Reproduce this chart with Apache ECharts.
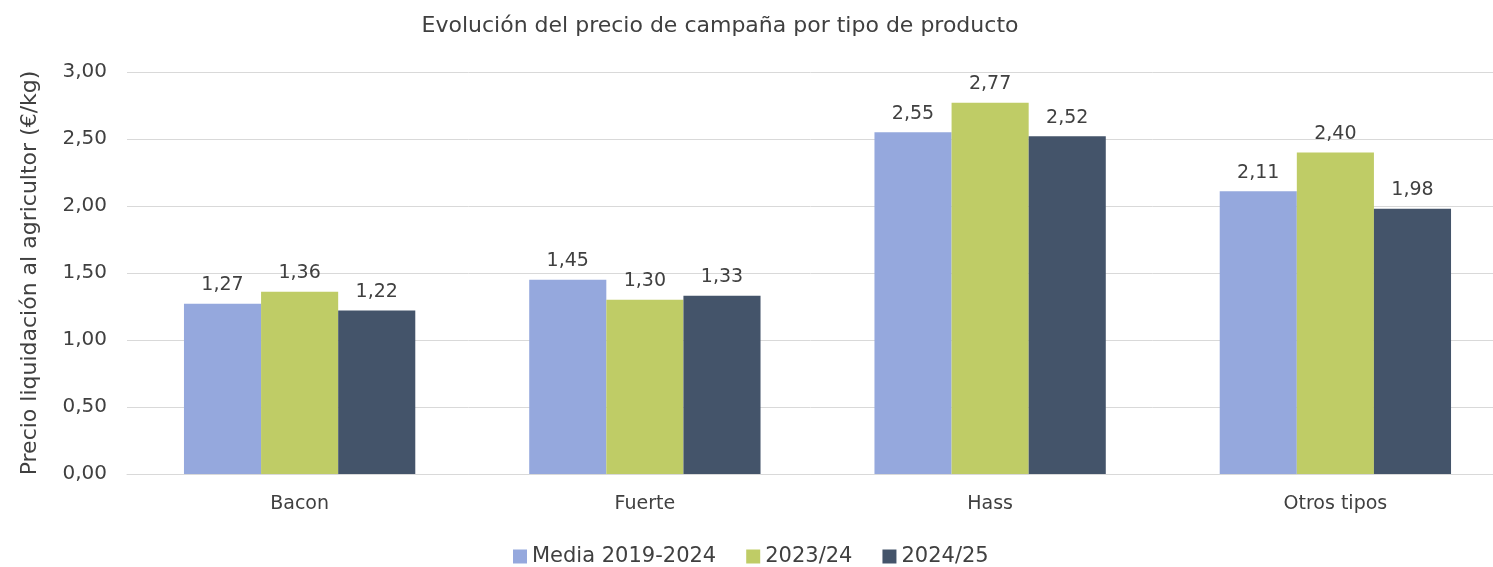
<!DOCTYPE html>
<html>
<head>
<meta charset="utf-8">
<script src="https://cdn.jsdelivr.net/npm/echarts@6/dist/echarts.min.js"></script>
<style>
  html, body { margin: 0; padding: 0; background: #fff; }
  #main { width: 1493px; height: 567px; }
</style>
</head>
<body>
<div id="main"></div>
<script>
// datos del gráfico
var categorias = ['Bacon', 'Fuerte', 'Hass', 'Otros tipos'];
var media = [1.27, 1.45, 2.55, 2.11];
var campana2324 = [1.36, 1.30, 2.77, 2.40];
var campana2425 = [1.22, 1.33, 2.52, 1.98];
var nombres = ['Media 2019-2024', '2023/24', '2024/25'];
var colores = ['#95a8dd', '#bfcc66', '#44546a'];

var fuente = '"DejaVu Sans", sans-serif';

function coma(v) {
    return v.toFixed(2).replace('.', ',');
}

var myChart = echarts.init(document.getElementById('main'));

function serie(nombre, datos, color) {
    return {
        name: nombre,
        type: 'bar',
        data: datos,
        barGap: '0%',
        barCategoryGap: '33%',
        itemStyle: { color: color },
        label: {
            show: true,
            position: 'top',
            distance: 9,
            color: '#404040',
            fontSize: 19,
            fontFamily: fuente,
            formatter: function (p) { return coma(p.value); }
        }
    };
}

var option = {
    animation: false,
    title: {
        text: 'Evolución del precio de campaña por tipo de producto',
        left: 715,
        top: 10,
        textAlign: 'center',
        textStyle: { color: '#404040', fontSize: 22, fontWeight: 'normal', fontFamily: fuente }
    },
    legend: {
        data: nombres,
        left: 508,
        top: 541,
        itemWidth: 14,
        itemHeight: 14,
        itemGap: 30,
        icon: 'rect',
        textStyle: { color: '#404040', fontSize: 21, fontFamily: fuente }
    },
    grid: { left: 127, right: -15, top: 72, bottom: 93, outerBoundsMode: 'none' },
    xAxis: {
        type: 'category',
        data: categorias,
        axisTick: { show: false },
        axisLine: { lineStyle: { color: '#d9d9d9' } },
        axisLabel: { color: '#404040', fontSize: 19, margin: 21, fontFamily: fuente }
    },
    yAxis: {
        type: 'value',
        min: 0,
        max: 3,
        interval: 0.5,
        name: 'Precio liquidación al agricultor (€/kg)',
        nameLocation: 'middle',
        nameGap: 86,
        nameTextStyle: { color: '#404040', fontSize: 22, fontFamily: fuente },
        axisLabel: { color: '#404040', fontSize: 20, margin: 20, fontFamily: fuente, formatter: coma },
        splitLine: { lineStyle: { color: '#d9d9d9' } }
    },
    series: [
        serie(nombres[0], media, colores[0]),
        serie(nombres[1], campana2324, colores[1]),
        serie(nombres[2], campana2425, colores[2])
    ]
};

myChart.setOption(option);
</script>
</body>
</html>
